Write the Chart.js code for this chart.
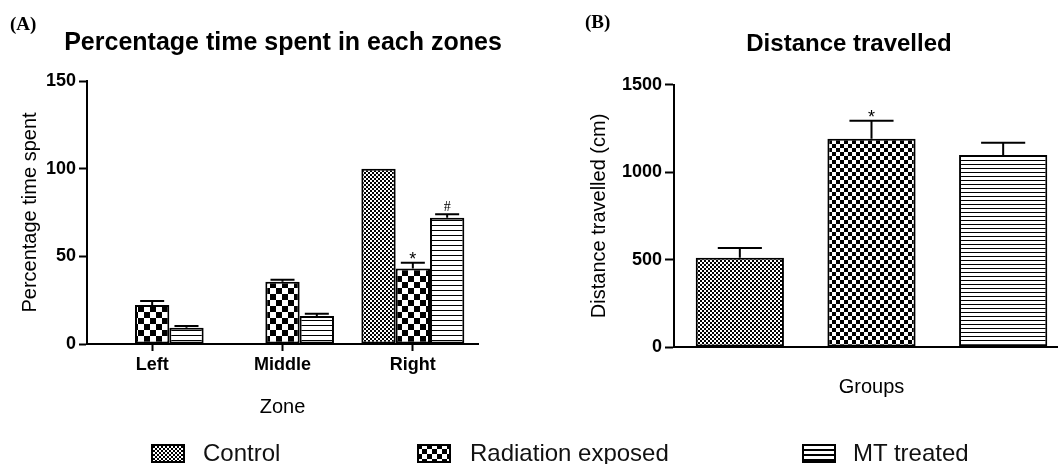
<!DOCTYPE html>
<html>
<head>
<meta charset="utf-8">
<script src="https://cdn.jsdelivr.net/npm/chart.js@4.4.1/dist/chart.umd.min.js"></script>
<style>
  html, body { margin: 0; padding: 0; background: #fff; width: 1058px; height: 464px; overflow: hidden; }
  #wrap { position: relative; width: 1058px; height: 464px; overflow: hidden; font-family: "Liberation Sans", Arial, sans-serif; }
  .panel { position: absolute; top: 0; }
  .tag { position: absolute; font: bold 19px "Liberation Serif", serif; color: #000; }
  .leg { position: absolute; top: 441px; font-size: 24px; line-height: 24px; color: #111; white-space: nowrap; }
  .sw { position: absolute; top: 444px; }
</style>
</head>
<body>
<div id="wrap">
  <canvas class="panel" id="chartA" width="566" height="464" style="left:0"></canvas>
  <canvas class="panel" id="chartB" width="578" height="464" style="left:560px"></canvas>
  <div class="tag" style="left:10px;top:13px">(A)</div>
  <div class="tag" style="left:585px;top:11px">(B)</div>
  <canvas class="sw" id="swControl" width="34" height="19" style="left:151px"></canvas>
  <div class="leg" style="left:203px">Control</div>
  <canvas class="sw" id="swRadiation" width="34" height="19" style="left:417px"></canvas>
  <div class="leg" style="left:470px">Radiation exposed</div>
  <canvas class="sw" id="swMT" width="34" height="19" style="left:802px"></canvas>
  <div class="leg" style="left:853px">MT treated</div>
</div>
<script>
// --- DATA: panel A (percentage time per zone) ---
const zones = ["Left", "Middle", "Right"];
const controlPct = [0, 0, 100];
const radiationPct = [22.3, 35.5, 43];
const mtPct = [9.2, 16, 72];
const controlPctSem = [0, 0, 0];
const radiationPctSem = [2.2, 1.2, 3.3];
const mtPctSem = [1.1, 1.2, 2.0];
const radiationPctMarks = ["", "", "*"];
const mtPctMarks = ["", "", "#"];
const pctTicks = [0, 50, 100, 150];

// --- DATA: panel B (distance travelled) ---
const groups = ["Control", "Radiation exposed", "MT treated"];
const distance = [510, 1191, 1099];
const distanceSem = [57, 103, 69];
const distanceMarks = ["", "*", ""];
const distTicks = [0, 500, 1000, 1500];

Chart.defaults.color = "#000";
Chart.defaults.font.family = '"Liberation Sans", Arial, sans-serif';

// pattern tiles
function checkerTile(cell) {
  const c = document.createElement("canvas");
  c.width = c.height = cell * 2;
  const g = c.getContext("2d");
  g.fillStyle = "#fff"; g.fillRect(0, 0, cell * 2, cell * 2);
  g.fillStyle = "#000"; g.fillRect(0, 0, cell, cell); g.fillRect(cell, cell, cell, cell);
  return c;
}
function stripeTile(gap, thick) {
  const c = document.createElement("canvas");
  c.width = 4; c.height = gap;
  const g = c.getContext("2d");
  g.fillStyle = "#fff"; g.fillRect(0, 0, 4, gap);
  g.fillStyle = "#000"; g.fillRect(0, 0, 4, thick);
  return c;
}
function pattern(id, tile) {
  return document.getElementById(id).getContext("2d").createPattern(tile, "repeat");
}

// legend swatches
function swatch(id, tile) {
  const g = document.getElementById(id).getContext("2d");
  g.fillStyle = g.createPattern(tile, "repeat");
  g.fillRect(0, 0, 34, 19);
  g.strokeStyle = "#000"; g.lineWidth = 2;
  g.strokeRect(1, 1, 32, 17);
}
swatch("swControl", checkerTile(2));
swatch("swRadiation", checkerTile(5));
swatch("swMT", stripeTile(5, 2));

// error bars (upper only) + significance marks
const errorBars = {
  id: "errorBars",
  afterDatasetsDraw(chart, args, opts) {
    const ctx = chart.ctx;
    const y = chart.scales.y;
    chart.data.datasets.forEach((ds, i) => {
      const meta = chart.getDatasetMeta(i);
      meta.data.forEach((bar, j) => {
        const sem = ds.sem ? ds.sem[j] : 0;
        const top = y.getPixelForValue(ds.data[j] + sem);
        ctx.save();
        ctx.strokeStyle = "#000";
        ctx.lineWidth = 2;
        if (sem > 0) {
          const half = bar.width * opts.cap / 2;
          ctx.beginPath();
          ctx.moveTo(bar.x, bar.y);
          ctx.lineTo(bar.x, top);
          ctx.moveTo(bar.x - half, top);
          ctx.lineTo(bar.x + half, top);
          ctx.stroke();
        }
        const mark = ds.marks ? ds.marks[j] : "";
        if (mark) {
          ctx.fillStyle = "#000";
          ctx.textAlign = "center";
          ctx.textBaseline = "alphabetic";
          if (mark === "#") {
            ctx.font = '14px "Liberation Serif", serif';
            ctx.fillText(mark, bar.x, top - 3);
          } else {
            ctx.font = '18px "Liberation Sans", Arial, sans-serif';
            ctx.fillText(mark, bar.x, top + 2);
          }
        }
        ctx.restore();
      });
    });
  }
};

const axisLine = { color: "#000", width: 2 };
const tickFont = { size: 18, weight: "bold" };
const titleFont = { size: 20 };

// empty right-hand axis used only as a spacer so the title stays centred on the canvas
function spacer(w) {
  return {
    position: "right",
    display: true,
    grid: { display: false },
    border: { display: false },
    ticks: { display: false },
    afterFit: s => { s.width = w; }
  };
}

// --- PANEL A ---
new Chart(document.getElementById("chartA"), {
  type: "bar",
  data: {
    labels: zones,
    datasets: [
      { label: "Control", data: controlPct, sem: controlPctSem, backgroundColor: pattern("chartA", checkerTile(2)) },
      { label: "Radiation exposed", data: radiationPct, sem: radiationPctSem, marks: radiationPctMarks, backgroundColor: pattern("chartA", checkerTile(6)) },
      { label: "MT treated", data: mtPct, sem: mtPctSem, marks: mtPctMarks, backgroundColor: pattern("chartA", stripeTile(5, 1)) }
    ]
  },
  options: {
    responsive: false,
    animation: false,
    datasets: { bar: { borderColor: "#000", borderWidth: 2, borderSkipped: false, categoryPercentage: 0.79, barPercentage: 1 } },
    layout: { padding: 0 },
    plugins: {
      legend: { display: false },
      tooltip: { enabled: false },
      title: { display: true, text: "Percentage time spent in each zones", font: { size: 25, weight: "bold" }, padding: { top: 28, bottom: 23 } },
      errorBars: { cap: 0.7 }
    },
    scales: {
      x: {
        grid: { drawOnChartArea: false, offset: false, tickLength: 7, tickWidth: 2, tickColor: "#000" },
        border: axisLine,
        ticks: { font: tickFont, padding: 3 },
        title: { display: true, text: "Zone", font: titleFont, padding: { top: 0, bottom: 45 } },
        afterFit: s => { s.height = 120; }
      },
      y: {
        min: 0, max: 150,
        afterBuildTicks: s => { s.ticks = pctTicks.map(v => ({ value: v })); },
        grid: { drawOnChartArea: false, tickLength: 8, tickWidth: 2, tickColor: "#000" },
        border: axisLine,
        ticks: { font: tickFont, padding: 3, callback: v => String(v) },
        title: { display: true, text: "Percentage time spent", font: titleFont, padding: { top: 18, bottom: 0 } },
        afterFit: s => { s.width = 87; }
      },
      pad: spacer(88)
    }
  },
  plugins: [errorBars]
});

// --- PANEL B ---
new Chart(document.getElementById("chartB"), {
  type: "bar",
  data: {
    labels: groups,
    datasets: [{
      label: "Distance travelled",
      data: distance,
      sem: distanceSem,
      marks: distanceMarks,
      backgroundColor: [
        pattern("chartB", checkerTile(2)),
        pattern("chartB", checkerTile(4)),
        pattern("chartB", stripeTile(4, 1))
      ]
    }]
  },
  options: {
    responsive: false,
    animation: false,
    datasets: { bar: { borderColor: "#000", borderWidth: 2, borderSkipped: false, categoryPercentage: 0.67, barPercentage: 1 } },
    layout: { padding: 0 },
    plugins: {
      legend: { display: false },
      tooltip: { enabled: false },
      title: { display: true, text: "Distance travelled", font: { size: 24, weight: "bold" }, padding: { top: 30, bottom: 26 } },
      errorBars: { cap: 0.5 }
    },
    scales: {
      x: {
        grid: { drawOnChartArea: false, drawTicks: false },
        border: axisLine,
        ticks: { display: false },
        title: { display: true, text: "Groups", font: titleFont, padding: { top: 0, bottom: 65 } },
        afterFit: s => { s.height = 117; }
      },
      y: {
        min: 0, max: 1500,
        afterBuildTicks: s => { s.ticks = distTicks.map(v => ({ value: v })); },
        grid: { drawOnChartArea: false, tickLength: 9, tickWidth: 2, tickColor: "#000" },
        border: axisLine,
        ticks: { font: tickFont, padding: 3, callback: v => String(v) },
        title: { display: true, text: "Distance travelled (cm)", font: titleFont, padding: { top: 27, bottom: 0 } },
        afterFit: s => { s.width = 114; }
      },
      pad: spacer(69)
    }
  },
  plugins: [errorBars]
});
</script>
</body>
</html>
